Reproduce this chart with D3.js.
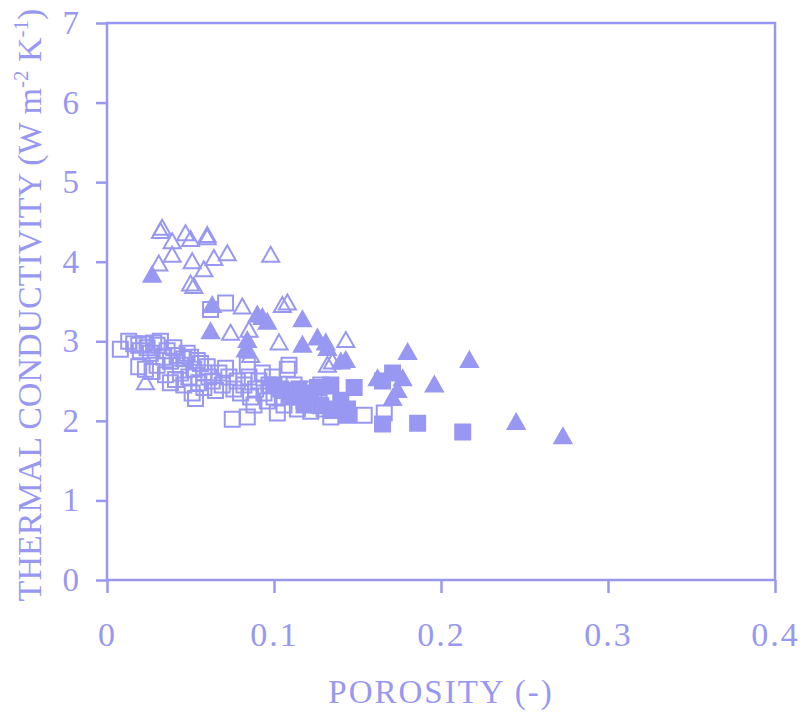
<!DOCTYPE html>
<html>
<head>
<meta charset="utf-8">
<script src="https://cdn.jsdelivr.net/npm/d3@7"></script>
<style>
  body { margin: 0; background: #fff; }
  svg text { font-family: "Liberation Serif", "DejaVu Serif", serif; fill: #9898f2; }
</style>
</head>
<body>
<svg id="chart" width="801" height="714"></svg>
<script>
// Values: [porosity, conductivity]
const openTriangles = [
  [0.032, 4.38], [0.033, 4.42], [0.039, 4.25], [0.047, 4.35], [0.050, 4.28],
  [0.060, 4.33], [0.060, 4.30], [0.031, 3.97], [0.039, 4.08], [0.051, 4.00],
  [0.058, 3.90], [0.064, 4.04], [0.072, 4.10], [0.050, 3.72], [0.052, 3.69],
  [0.098, 4.08], [0.081, 3.43], [0.105, 3.45], [0.108, 3.48], [0.074, 3.10],
  [0.085, 3.14], [0.103, 2.98], [0.086, 2.82], [0.143, 3.01], [0.132, 2.70],
  [0.135, 2.74], [0.023, 2.48]
];
const filledTriangles = [
  [0.027, 3.83], [0.063, 3.45], [0.090, 3.33], [0.093, 3.30], [0.096, 3.24],
  [0.117, 3.27], [0.062, 3.12], [0.084, 3.01], [0.083, 2.89], [0.117, 2.95],
  [0.126, 3.04], [0.131, 2.98], [0.132, 2.91], [0.140, 2.74], [0.143, 2.76],
  [0.180, 2.86], [0.162, 2.53], [0.177, 2.53], [0.171, 2.28], [0.174, 2.38],
  [0.217, 2.76], [0.196, 2.45], [0.245, 1.98], [0.273, 1.80]
];
const openSquares = [
  [0.008, 2.90], [0.013, 3.00], [0.016, 2.97], [0.019, 2.95], [0.020, 2.88],
  [0.022, 2.97], [0.024, 2.92], [0.026, 2.85], [0.028, 2.98], [0.030, 2.95],
  [0.032, 3.00], [0.034, 2.80], [0.036, 2.88], [0.038, 2.75], [0.040, 2.92],
  [0.042, 2.82], [0.044, 2.70], [0.046, 2.78], [0.048, 2.85], [0.050, 2.80],
  [0.052, 2.65], [0.054, 2.76], [0.056, 2.72], [0.058, 2.60], [0.060, 2.68],
  [0.019, 2.68], [0.023, 2.65], [0.027, 2.62], [0.030, 2.70], [0.035, 2.58],
  [0.038, 2.48], [0.041, 2.52], [0.044, 2.60], [0.046, 2.45], [0.049, 2.55],
  [0.051, 2.35], [0.053, 2.28], [0.055, 2.48], [0.058, 2.42], [0.061, 2.55],
  [0.063, 2.50], [0.065, 2.38], [0.067, 2.60], [0.069, 2.45], [0.071, 2.66],
  [0.073, 2.55], [0.075, 2.02], [0.076, 2.40], [0.078, 2.50], [0.080, 2.35],
  [0.082, 2.45], [0.084, 2.05], [0.085, 2.55], [0.086, 2.30], [0.088, 2.20],
  [0.089, 2.40], [0.091, 2.50], [0.093, 2.60], [0.094, 2.35], [0.096, 2.25],
  [0.097, 2.45], [0.099, 2.55], [0.100, 2.30], [0.102, 2.10], [0.104, 2.40],
  [0.106, 2.20], [0.108, 2.65], [0.110, 2.35], [0.112, 2.45], [0.114, 2.15],
  [0.116, 2.30], [0.118, 2.25], [0.120, 2.40], [0.122, 2.12], [0.124, 2.30],
  [0.126, 2.20], [0.128, 2.45], [0.130, 2.15], [0.134, 2.05], [0.136, 2.25],
  [0.154, 2.07], [0.166, 2.10], [0.084, 2.70], [0.109, 2.70], [0.062, 3.40],
  [0.071, 3.48]
];
const filledSquares = [
  [0.100, 2.45], [0.105, 2.38], [0.110, 2.30], [0.115, 2.40], [0.118, 2.20],
  [0.122, 2.35], [0.126, 2.42], [0.134, 2.45], [0.128, 2.19], [0.135, 2.13],
  [0.140, 2.26], [0.144, 2.15], [0.144, 2.07], [0.148, 2.42], [0.165, 2.50],
  [0.171, 2.60], [0.165, 1.96], [0.186, 1.97], [0.213, 1.86]
];
const xTicks = [0, 0.1, 0.2, 0.3, 0.4];
const yTicks = [0, 1, 2, 3, 4, 5, 6, 7];

const color = '#9898f2';
const margin = { left: 107, right: 26, top: 23, bottom: 134 };
const width = 801, height = 714;
const svg = d3.select('#chart');

const x = d3.scaleLinear().domain([0, 0.4]).range([margin.left, width - margin.right]);
const y = d3.scaleLinear().domain([0, 7]).range([height - margin.bottom, margin.top]);

// frame
svg.append('rect')
  .attr('x', x(0)).attr('y', y(7))
  .attr('width', x(0.4) - x(0)).attr('height', y(0) - y(7))
  .attr('fill', 'none').attr('stroke', color).attr('stroke-width', 2.5);

// x axis: major + minor ticks pointing down
const xAxis = svg.append('g').attr('transform', `translate(0,${y(0)})`);
xAxis.call(d3.axisBottom(x).tickValues(d3.range(0, 0.4001, 0.02)).tickFormat('').tickSizeOuter(0).tickSizeInner(9));
xAxis.call(d3.axisBottom(x).tickValues(xTicks).tickFormat(d3.format('')).tickSizeOuter(0).tickSizeInner(13).tickPadding(29));
xAxis.selectAll('path').remove();
xAxis.selectAll('line').attr('stroke', color).attr('stroke-width', 2.5);
xAxis.selectAll('text').attr('font-size', 34).attr('fill', color)
  .style('font-family', '"Liberation Serif", serif').style('letter-spacing', '2px');

// y axis: major + minor ticks pointing left
const yAxis = svg.append('g').attr('transform', `translate(${x(0)},0)`);
yAxis.call(d3.axisLeft(y).tickValues(d3.range(0, 7.001, 0.5)).tickFormat('').tickSizeOuter(0).tickSizeInner(8));
yAxis.call(d3.axisLeft(y).tickValues(yTicks).tickFormat(d3.format('d')).tickSizeOuter(0).tickSizeInner(11).tickPadding(17));
yAxis.selectAll('path').remove();
yAxis.selectAll('line').attr('stroke', color).attr('stroke-width', 2.5);
yAxis.selectAll('text').attr('font-size', 33).attr('fill', color).style('font-family', '"Liberation Serif", serif');

// markers
const tri = 'M0,-8.5L8.5,6.5L-8.5,6.5Z';
const sq = 'M-7.5,-7.5H7.5V7.5H-7.5Z';
function plot(data, path, filled) {
  svg.append('g').selectAll('path')
    .data(data)
    .join('path')
    .attr('d', path)
    .attr('transform', (d) => `translate(${x(d[0])},${y(d[1])})`)
    .attr('fill', filled ? color : 'none')
    .attr('stroke', color)
    .attr('stroke-width', 2);
}
plot(openSquares, sq, false);
plot(filledSquares, sq, true);
plot(openTriangles, tri, false);
plot(filledTriangles, tri, true);

// axis titles
svg.append('text')
  .attr('x', (x(0) + x(0.4)) / 2).attr('y', 703)
  .attr('text-anchor', 'middle').attr('font-size', 33)
  .style('letter-spacing', '2px')
  .text('POROSITY (-)');

const yl = svg.append('text')
  .attr('transform', 'translate(41,305) rotate(-90)')
  .attr('text-anchor', 'middle').attr('font-size', 34);
yl.append('tspan').text('THERMAL CONDUCTIVITY (W m');
yl.append('tspan').attr('font-size', 21).attr('dy', -13).text('-2');
yl.append('tspan').attr('dy', 13).text(' K');
yl.append('tspan').attr('font-size', 21).attr('dy', -13).text('-1');
yl.append('tspan').attr('dy', 13).text(')');
</script>
</body>
</html>
